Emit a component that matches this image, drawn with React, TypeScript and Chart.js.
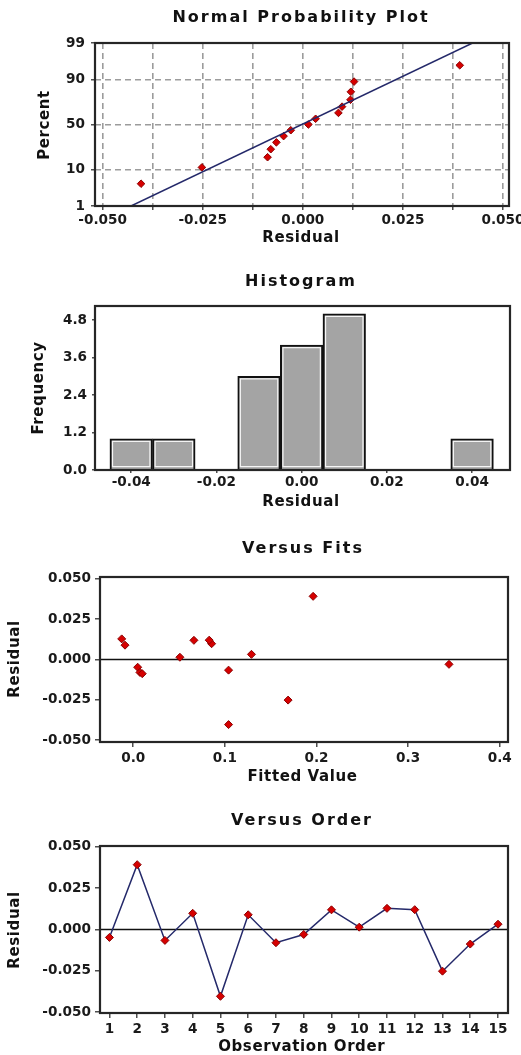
import React, { useEffect, useRef } from 'react';
import { Chart, registerables } from 'chart.js';

Chart.register(...registerables);

// ---------------- data ----------------
const observationOrder = [1, 2, 3, 4, 5, 6, 7, 8, 9, 10, 11, 12, 13, 14, 15];
const residuals = [-0.0048, 0.0392, -0.0066, 0.0098, -0.0404, 0.0089, -0.008, -0.003, 0.0119, 0.0014, 0.0128, 0.012, -0.0252, -0.0088, 0.0032];
const fittedValues = [0.0048, 0.1963, 0.104, 0.0855, 0.104, -0.009, 0.0073, 0.3446, 0.0662, 0.0509, -0.0126, 0.0829, 0.169, 0.0098, 0.129];

const normalPlotPercents = [4.55, 11.04, 17.53, 24.03, 30.52, 37.01, 43.51, 50.0, 56.49, 62.99, 69.48, 75.97, 82.47, 88.96, 95.45];
const normalLineResidual = [-0.0429, 0.0424];
const normalLinePercent = [1, 99];
const percentTicks = [1, 10, 50, 90, 99];
const normalResidualTicks = [-0.05, -0.0375, -0.025, -0.0125, 0, 0.0125, 0.025, 0.0375, 0.05];
const normalResidualLabels = ['-0.050', '', '-0.025', '', '0.000', '', '0.025', '', '0.050'];

const histBinCenters = [-0.04, -0.03, -0.02, -0.01, 0, 0.01, 0.02, 0.03, 0.04];
const histCounts = [1, 1, 0, 3, 4, 5, 0, 0, 1];
const histFreqTicks = [0, 1.2, 2.4, 3.6, 4.8];
const histResidualTicks = [-0.04, -0.02, 0, 0.02, 0.04];

const residualTicks = [-0.05, -0.025, 0, 0.025, 0.05];
const fittedTicks = [0, 0.1, 0.2, 0.3, 0.4];

// ---------------- helpers ----------------
const FONT = '"DejaVu Sans", Verdana, sans-serif';
const RED = '#d60000';
const RED_DARK = '#8a0000';
const NAVY = '#24296a';

function probit(p: number): number {
  const a = [-39.69683028665376, 220.9460984245205, -275.9285104469687, 138.357751867269, -30.66479806614716, 2.506628277459239];
  const b = [-54.47609879822406, 161.5858368580409, -155.6989798598866, 66.80131188771972, -13.28068155288572];
  const c = [-0.007784894002430293, -0.3223964580411365, -2.400758277161838, -2.549732539343734, 4.374664141464968, 2.938163982699054];
  const d = [0.007784695709041462, 0.3224671290700398, 2.445134137142996, 3.754408661907416];
  const pl = 0.02425;
  if (p < pl) {
    const q = Math.sqrt(-2 * Math.log(p));
    return (((((c[0] * q + c[1]) * q + c[2]) * q + c[3]) * q + c[4]) * q + c[5]) / ((((d[0] * q + d[1]) * q + d[2]) * q + d[3]) * q + 1);
  }
  if (p > 1 - pl) {
    const q = Math.sqrt(-2 * Math.log(1 - p));
    return -(((((c[0] * q + c[1]) * q + c[2]) * q + c[3]) * q + c[4]) * q + c[5]) / ((((d[0] * q + d[1]) * q + d[2]) * q + d[3]) * q + 1);
  }
  const q = p - 0.5;
  const r = q * q;
  return ((((((a[0] * r + a[1]) * r + a[2]) * r + a[3]) * r + a[4]) * r + a[5]) * q) / (((((b[0] * r + b[1]) * r + b[2]) * r + b[3]) * r + b[4]) * r + 1);
}

type AxisSpec = {
  min: number;
  max: number;
  ticks: number[];
  label: (v: number, i: number) => string;
  size: number;
  tickLen: number;
  pad: number;
  grid?: boolean;
};

function makeScale(horizontal: boolean, s: AxisSpec): any {
  return {
    type: 'linear',
    position: horizontal ? 'bottom' : 'left',
    min: s.min,
    max: s.max,
    offset: false,
    afterBuildTicks: (sc: any) => {
      sc.ticks = s.ticks.map((v) => ({ value: v }));
    },
    afterFit: (sc: any) => {
      if (horizontal) {
        sc.height = s.size;
        sc.paddingLeft = 0;
        sc.paddingRight = 0;
      } else {
        sc.width = s.size;
        sc.paddingTop = 0;
        sc.paddingBottom = 0;
      }
    },
    ticks: {
      autoSkip: false,
      maxRotation: 0,
      minRotation: 0,
      padding: s.pad,
      color: '#1a1a1a',
      font: { family: FONT, size: 13.6, weight: 'bold' },
      callback: (v: any, i: number) => s.label(Number(v), i),
    },
    grid: {
      display: true,
      drawOnChartArea: !!s.grid,
      drawTicks: true,
      tickLength: s.tickLen,
      tickColor: '#222',
      tickWidth: 1.2,
      color: '#9c9c9c',
      lineWidth: 1.6,
      offset: false,
    },
    border: { display: false, dash: [6, 4] },
    title: { display: false },
  };
}

type TextSpec = {
  title: string;
  titleX: number;
  titleY: number;
  xTitle: string;
  xTitleX: number;
  xTitleY: number;
  yTitle: string;
  yTitleX: number;
  yTitleY: number;
};

function panelPlugin(top: number, t: TextSpec, zeroLine: boolean): any {
  return {
    id: 'panelDecor',
    beforeDatasetsDraw(chart: any) {
      if (!zeroLine) return;
      const { ctx, chartArea } = chart;
      const y = chart.scales.y.getPixelForValue(0);
      ctx.save();
      ctx.strokeStyle = '#111';
      ctx.lineWidth = 1.5;
      ctx.beginPath();
      ctx.moveTo(chartArea.left, y);
      ctx.lineTo(chartArea.right, y);
      ctx.stroke();
      ctx.restore();
    },
    afterDraw(chart: any) {
      const { ctx, chartArea } = chart;
      ctx.save();
      ctx.strokeStyle = '#262626';
      ctx.lineWidth = 2.2;
      ctx.strokeRect(chartArea.left, chartArea.top, chartArea.right - chartArea.left, chartArea.bottom - chartArea.top);

      ctx.fillStyle = '#111';
      ctx.textAlign = 'center';
      ctx.textBaseline = 'middle';
      ctx.font = `bold 16px ${FONT}`;
      (ctx as any).letterSpacing = '2px';
      ctx.fillText(t.title, t.titleX + 1, t.titleY - top);

      ctx.font = `bold 15px ${FONT}`;
      (ctx as any).letterSpacing = '0.6px';
      ctx.fillText(t.xTitle, t.xTitleX, t.xTitleY - top);

      ctx.translate(t.yTitleX, t.yTitleY - top);
      ctx.rotate(-Math.PI / 2);
      ctx.fillText(t.yTitle, 0, 0);
      ctx.restore();
    },
  };
}

const barInnerPlugin = {
  id: 'barInner',
  afterDatasetsDraw(chart: any) {
    const meta = chart.getDatasetMeta(0);
    const ctx = chart.ctx;
    ctx.save();
    ctx.strokeStyle = 'rgba(255,255,255,0.9)';
    ctx.lineWidth = 1.2;
    meta.data.forEach((el: any, i: number) => {
      if (!histCounts[i]) return;
      const { x, y, base, width } = el.getProps(['x', 'y', 'base', 'width'], true);
      const l = x - width / 2 + 2.6;
      const r = x + width / 2 - 2.6;
      ctx.strokeRect(l, y + 2.6, r - l, base - y - 5.2);
    });
    ctx.restore();
  },
};

const commonOptions = (padTop: number, padRight: number) => ({
  responsive: false,
  maintainAspectRatio: false,
  animation: false as const,
  devicePixelRatio: 1,
  events: [] as any[],
  layout: { padding: { top: padTop, right: padRight, bottom: 0, left: 0 } },
  plugins: { legend: { display: false }, tooltip: { enabled: false }, title: { display: false } },
});

// ---------------- chart configs ----------------
function normalConfig(top: number): any {
  const sorted = [...residuals].sort((a, b) => a - b);
  const zTicks = percentTicks.map((p) => probit(p / 100));
  return {
    type: 'scatter',
    data: {
      datasets: [
        {
          data: normalLineResidual.map((x, i) => ({ x, y: probit(normalLinePercent[i] / 100) })),
          showLine: true,
          borderColor: NAVY,
          borderWidth: 1.5,
          pointRadius: 0,
        },
        {
          data: sorted.map((x, i) => ({ x, y: probit(normalPlotPercents[i] / 100) })),
          pointStyle: 'rectRot',
          pointRadius: 3.8,
          pointBackgroundColor: RED,
          pointBorderColor: RED_DARK,
          pointBorderWidth: 1,
        },
      ],
    },
    options: {
      ...commonOptions(43, 12),
      scales: {
        x: makeScale(true, {
          min: -0.0519, max: 0.0515, ticks: normalResidualTicks,
          label: (_v, i) => normalResidualLabels[i],
          size: 54, tickLen: 4, pad: 2, grid: true,
        }),
        y: makeScale(false, {
          min: zTicks[0], max: zTicks[zTicks.length - 1], ticks: zTicks,
          label: (_v, i) => String(percentTicks[i]),
          size: 95, tickLen: 4, pad: 6, grid: true,
        }),
      },
    },
    plugins: [
      panelPlugin(top, {
        title: 'Normal Probability Plot', titleX: 300, titleY: 17.5,
        xTitle: 'Residual', xTitleX: 301, xTitleY: 238,
        yTitle: 'Percent', yTitleX: 45, yTitleY: 125,
      }, false),
    ],
  };
}

function histConfig(top: number): any {
  return {
    type: 'bar',
    data: {
      datasets: [
        {
          data: histBinCenters.map((x, i) => ({ x, y: histCounts[i] })),
          backgroundColor: '#a4a4a4',
          borderColor: '#111',
          borderWidth: 2,
          barPercentage: 1,
          categoryPercentage: 1,
        },
      ],
    },
    options: {
      ...commonOptions(46, 11),
      scales: {
        x: makeScale(true, {
          min: -0.0485, max: 0.0489, ticks: histResidualTicks,
          label: (v) => v.toFixed(2), size: 50, tickLen: 3, pad: 1,
        }),
        y: makeScale(false, {
          min: 0, max: 5.25, ticks: histFreqTicks,
          label: (v) => v.toFixed(1), size: 95, tickLen: 3, pad: 5,
        }),
      },
    },
    plugins: [
      barInnerPlugin,
      panelPlugin(top, {
        title: 'Histogram', titleX: 300, titleY: 281.7,
        xTitle: 'Residual', xTitleX: 301, xTitleY: 501.7,
        yTitle: 'Frequency', yTitleX: 39.3, yTitleY: 388,
      }, false),
    ],
  };
}

function fitsConfig(top: number): any {
  return {
    type: 'scatter',
    data: {
      datasets: [
        {
          data: fittedValues.map((x, i) => ({ x, y: residuals[i] })),
          pointStyle: 'rectRot',
          pointRadius: 4,
          pointBackgroundColor: RED,
          pointBorderColor: RED_DARK,
          pointBorderWidth: 1,
        },
      ],
    },
    options: {
      ...commonOptions(57, 13),
      scales: {
        x: makeScale(true, {
          min: -0.0363, max: 0.409, ticks: fittedTicks,
          label: (v) => v.toFixed(1), size: 48, tickLen: 5, pad: 3,
        }),
        y: makeScale(false, {
          min: -0.0512, max: 0.0512, ticks: residualTicks,
          label: (v) => v.toFixed(3), size: 100, tickLen: 5, pad: 4,
        }),
      },
    },
    plugins: [
      panelPlugin(top, {
        title: 'Versus Fits', titleX: 302, titleY: 549.3,
        xTitle: 'Fitted Value', xTitleX: 302.5, xTitleY: 776.7,
        yTitle: 'Residual', yTitleX: 15, yTitleY: 659,
      }, true),
    ],
  };
}

function orderConfig(top: number): any {
  return {
    type: 'scatter',
    data: {
      datasets: [
        {
          data: observationOrder.map((x, i) => ({ x, y: residuals[i] })),
          showLine: true,
          borderColor: NAVY,
          borderWidth: 1.5,
          pointStyle: 'rectRot',
          pointRadius: 4,
          pointBackgroundColor: RED,
          pointBorderColor: RED_DARK,
          pointBorderWidth: 1,
        },
      ],
    },
    options: {
      ...commonOptions(56, 13),
      scales: {
        x: makeScale(true, {
          min: 0.66, max: 15.36, ticks: observationOrder,
          label: (v) => String(Math.round(v)), size: 42, tickLen: 5, pad: 3,
        }),
        y: makeScale(false, {
          min: -0.0505, max: 0.0505, ticks: residualTicks,
          label: (v) => v.toFixed(3), size: 100, tickLen: 5, pad: 4,
        }),
      },
    },
    plugins: [
      panelPlugin(top, {
        title: 'Versus Order', titleX: 301, titleY: 820.7,
        xTitle: 'Observation Order', xTitleX: 301.7, xTitleY: 1046.7,
        yTitle: 'Residual', yTitleX: 15, yTitleY: 930,
      }, true),
    ],
  };
}

// ---------------- components ----------------
function ChartPanel({ top, height, build }: { top: number; height: number; build: (top: number) => any }) {
  const ref = useRef<HTMLCanvasElement>(null);
  useEffect(() => {
    const chart = new Chart(ref.current as HTMLCanvasElement, build(top));
    return () => chart.destroy();
  }, [top, height, build]);
  return (
    <canvas
      ref={ref}
      width={521}
      height={height}
      style={{ position: 'absolute', left: 0, top, width: 521, height, display: 'block' }}
    />
  );
}

export default function App() {
  return (
    <div style={{ position: 'absolute', left: 0, top: 0, width: 521, height: 1055, background: '#ffffff', overflow: 'hidden' }}>
      <ChartPanel top={0} height={260} build={normalConfig} />
      <ChartPanel top={260} height={260} build={histConfig} />
      <ChartPanel top={520} height={270} build={fitsConfig} />
      <ChartPanel top={790} height={265} build={orderConfig} />
    </div>
  );
}
